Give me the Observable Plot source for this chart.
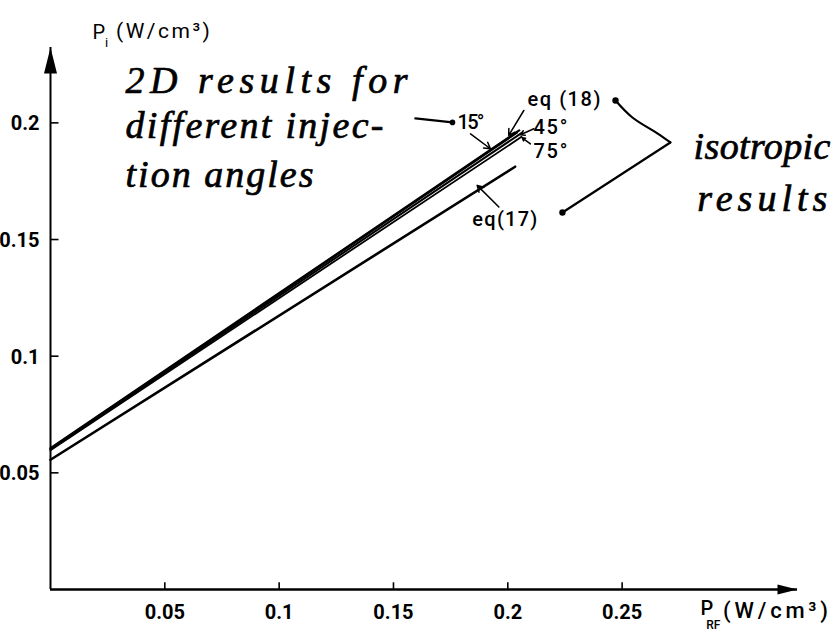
<!DOCTYPE html>
<html><head><meta charset="utf-8">
<script src="https://cdn.jsdelivr.net/npm/d3@7"></script>
<script src="https://cdn.jsdelivr.net/npm/@observablehq/plot@0.6"></script>
<style>body{margin:0;background:#fff} svg{display:block}</style>
</head><body><div id="chart"></div>
<script>
// ---- axes ----
const xTicks = [0.05, 0.1, 0.15, 0.2, 0.25];
const xTickLabels = ["0.05", "0.1", "0.15", "0.2", "0.25"];
const yTicks = [0.05, 0.1, 0.15, 0.2];
const yTickLabels = ["0.05", "0.1", "0.15", "0.2"];
const xMax = 0.3267, yMax = 0.2323;

// ---- straight-line results (start and end points) ----
const lineNames = ["15°", "eq (18)", "45°", "75°", "eq (17)"];
const lineX0 = [0, 0, 0, 0, 0];
const lineY0 = [0.0606, 0.0603, 0.0600, 0.0597, 0.0556];
const lineX1 = [0.2050, 0.2040, 0.2058, 0.2060, 0.2032];
const lineY1 = [0.1968, 0.1958, 0.1955, 0.1940, 0.1812];
const lineW = [2.2, 2.2, 2.0, 1.8, 2.6];

// ---- printed labels ----
const annText = ["eq (18)", "15°", "45°", "75°", "eq(17)"];
const annX = [0.2086, 0.1780, 0.2112, 0.2112, 0.1845];
const annY = [0.2098, 0.2002, 0.1980, 0.1877, 0.1586];
const annW = [73, 27, 34, 34, 65];

// ---- pointer arrows (from -> to) ----
const arrX1 = [0.1837, 0.2070, 0.2114, 0.2099, 0.1961];
const arrY1 = [0.1953, 0.2053, 0.1975, 0.1910, 0.1639];
const arrX2 = [0.1924, 0.2004, 0.2055, 0.2063, 0.1866];
const arrY2 = [0.1889, 0.1946, 0.1949, 0.1936, 0.1732];

// ---- hand-written notes ----
const handText = ["2D results for", "different injec-", "tion angles", "isotropic", "results"];
const handX = [0.0328, 0.0328, 0.0328, 0.2812, 0.2829];
const handY = [0.2180, 0.1987, 0.1777, 0.1897, 0.1675];
const handW = [282, 258, 188, 137, 130];

// leader to "15°" and bracket to the isotropic results
const leadX = [0.1596, 0.1758];
const leadY = [0.2019, 0.2002];
const isoCurveX = [0.2471, 0.2545, 0.2654, 0.2711];
const isoCurveY = [0.2096, 0.2023, 0.1955, 0.1916];
const isoLineX = [0.2711, 0.2239];
const isoLineY = [0.1916, 0.1616];
const dotX = [0.1758, 0.2471, 0.2239];
const dotY = [0.2002, 0.2096, 0.1616];
const dotR = [3.6, 4.6, 4.6];

// axis titles
const yTitleText = ["P", "i", "(W/cm³)"];
const yTitleX = [0.0184, 0.0238, 0.0286];
const yTitleY = [0.2386, 0.2343, 0.2391];
const yTitleSize = [20, 13, 21];
const yTitleW = [null, null, 94];
const xTitleText = ["P", "RF", "(W/cm³)"];
const xTitleX = [0.2843, 0.2868, 0.2941];
const xTitleY = [-0.0083, -0.0152, -0.0094];
const xTitleSize = [20, 12, 22];
const xTitleW = [null, null, 105];

const idx = a => a.map((_, i) => i);

const arrowUp = {draw(c) { c.moveTo(0, 0); c.lineTo(6.5, 26); c.lineTo(-6.5, 26); c.closePath(); }};
const arrowRight = {draw(c) { c.moveTo(0, 0); c.lineTo(5, 20); c.lineTo(-5, 20); c.closePath(); }};

const segs = idx(lineNames).flatMap(i => [
  {k: lineNames[i], x: lineX0[i], y: lineY0[i]},
  {k: lineNames[i], x: lineX1[i], y: lineY1[i]}
]);

const tickLenX = 0.0035, tickLenY = 0.0031;

const plot = Plot.plot({
  width: 836, height: 634,
  marginLeft: 50, marginRight: 39, marginTop: 47, marginBottom: 45,
  x: {domain: [0, xMax], axis: null},
  y: {domain: [0, yMax], axis: null},
  style: {fontFamily: "Roboto, sans-serif", background: "white", color: "black"},
  marks: [
    Plot.ruleX([0], {strokeWidth: 2}),
    Plot.ruleY([0], {strokeWidth: 2.5}),
    Plot.dot([0], {x: 0, y: yMax, symbol: arrowUp, fill: "black", stroke: "none"}),
    Plot.dot([0], {x: xMax, y: 0, symbol: arrowRight, rotate: 90, fill: "black", stroke: "none"}),
    Plot.link(xTicks, {x1: d => d, x2: d => d, y1: 0, y2: tickLenY, strokeWidth: 1.6}),
    Plot.link(yTicks, {y1: d => d, y2: d => d, x1: 0, x2: tickLenX, strokeWidth: 1.6}),
    Plot.text(idx(xTicks), {x: i => xTicks[i], y: 0, text: i => xTickLabels[i], dy: 23, fontSize: 20, fontWeight: "bold"}),
    Plot.text(idx(yTicks), {x: 0, y: i => yTicks[i], text: i => yTickLabels[i], textAnchor: "end", dx: -11, dy: 1, fontSize: 20, fontWeight: "bold"}),
    ...idx(lineNames).map(i => Plot.line(segs.filter(d => d.k === lineNames[i]), {x: "x", y: "y", stroke: "black", strokeWidth: lineW[i]})),
    Plot.arrow(idx(arrX1), {x1: i => arrX1[i], y1: i => arrY1[i], x2: i => arrX2[i], y2: i => arrY2[i], headLength: 7, strokeWidth: 1.5, stroke: "black"}),
    Plot.line(idx(leadX), {x: i => leadX[i], y: i => leadY[i], strokeWidth: 2.4, stroke: "black"}),
    Plot.line(idx(isoCurveX), {x: i => isoCurveX[i], y: i => isoCurveY[i], curve: "catmull-rom", strokeWidth: 2.2, stroke: "black"}),
    Plot.line(idx(isoLineX), {x: i => isoLineX[i], y: i => isoLineY[i], strokeWidth: 2.2, stroke: "black"}),
    Plot.dot(idx(dotX), {x: i => dotX[i], y: i => dotY[i], r: i => dotR[i], fill: "black", stroke: "none"}),
    Plot.text(idx(annText), {x: i => annX[i], y: i => annY[i], text: i => annText[i], textAnchor: "start", fontSize: 20, fontWeight: 500}),
    Plot.text(idx(handText), {x: i => handX[i], y: i => handY[i], text: i => handText[i], textAnchor: "start", fontSize: 38, fontStyle: "italic", fontFamily: "Liberation Serif, serif", fill: "black", stroke: "black", strokeWidth: 0.7}),
    Plot.text(idx(yTitleText), {x: i => yTitleX[i], y: i => yTitleY[i], text: i => yTitleText[i], fontSize: i => yTitleSize[i], textAnchor: "start"}),
    Plot.text(idx(xTitleText), {x: i => xTitleX[i], y: i => xTitleY[i], text: i => xTitleText[i], fontSize: i => xTitleSize[i], textAnchor: "start", fontWeight: 500})
  ]
});

// stretch letter spacing of some texts to the widths measured in the reference
const widthQueue = new Map();
function addWidths(texts, widths) {
  texts.forEach((t, i) => {
    if (widths[i] == null) return;
    if (!widthQueue.has(t)) widthQueue.set(t, []);
    widthQueue.get(t).push(widths[i]);
  });
}
addWidths(handText, handW);
addWidths(annText, annW);
addWidths(yTitleText, yTitleW);
addWidths(xTitleText, xTitleW);
d3.select(plot).selectAll("text").each(function() {
  const q = widthQueue.get(this.textContent);
  if (q && q.length) d3.select(this).attr("textLength", q.shift()).attr("lengthAdjust", "spacing");
});

document.getElementById("chart").append(plot);
</script>
</body></html>
